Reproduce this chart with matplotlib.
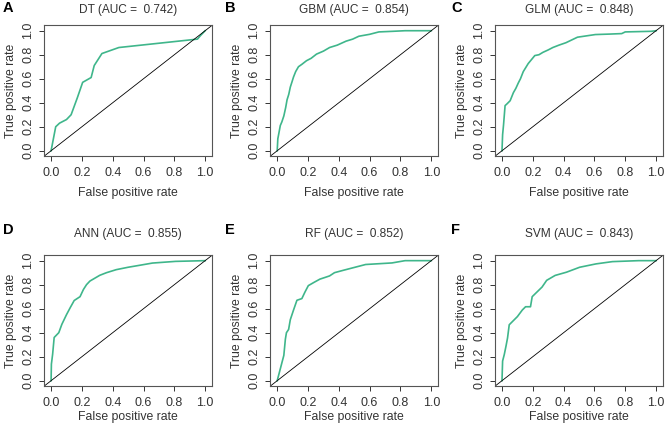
import matplotlib
matplotlib.use("Agg")
import matplotlib.pyplot as plt

plt.rcParams["font.family"] = ["Liberation Sans", "DejaVu Sans"]

# curvas ROC (fpr, tpr) por modelo
dt_fpr = [0, 0.03, 0.055, 0.10, 0.13, 0.17, 0.205, 0.26, 0.28, 0.33, 0.44, 0.95, 0.97, 1.0]
dt_tpr = [0, 0.20, 0.23, 0.26, 0.30, 0.44, 0.57, 0.61, 0.71, 0.81, 0.86, 0.93, 0.96, 1.0]

gbm_fpr = [0, 0.004, 0.01, 0.02, 0.03, 0.043, 0.055, 0.064, 0.075, 0.085, 0.095, 0.106, 0.12, 0.138,
           0.16, 0.19, 0.22, 0.255, 0.30, 0.34, 0.39, 0.447, 0.49, 0.53, 0.60, 0.66, 0.75, 0.83, 1.0]
gbm_tpr = [0, 0.10, 0.14, 0.21, 0.24, 0.29, 0.36, 0.425, 0.47, 0.53, 0.57, 0.615, 0.66, 0.70,
           0.72, 0.75, 0.77, 0.805, 0.83, 0.86, 0.88, 0.913, 0.93, 0.954, 0.97, 0.99, 0.995, 1.0, 1.0]

glm_fpr = [0, 0.004, 0.01, 0.02, 0.032, 0.053, 0.074, 0.09, 0.106, 0.12, 0.138, 0.17, 0.213, 0.24,
           0.266, 0.30, 0.33, 0.37, 0.415, 0.49, 0.606, 0.70, 0.777, 0.80, 0.968, 1.0]
glm_tpr = [0, 0.134, 0.215, 0.376, 0.39, 0.417, 0.484, 0.52, 0.565, 0.60, 0.659, 0.726, 0.793, 0.80,
           0.82, 0.84, 0.86, 0.88, 0.90, 0.946, 0.968, 0.972, 0.976, 0.99, 0.995, 1.0]

ann_fpr = [0, 0.002, 0.01, 0.02, 0.05, 0.07, 0.10, 0.124, 0.15, 0.188, 0.21, 0.23, 0.252, 0.316,
           0.36, 0.423, 0.50, 0.573, 0.658, 0.808, 1.0]
ann_tpr = [0, 0.138, 0.22, 0.36, 0.40, 0.47, 0.55, 0.608, 0.668, 0.70, 0.76, 0.80, 0.83, 0.878,
           0.90, 0.925, 0.945, 0.961, 0.98, 0.994, 1.0]

rf_fpr = [0, 0.021, 0.043, 0.053, 0.06, 0.074, 0.085, 0.106, 0.128, 0.16, 0.18, 0.202, 0.24, 0.277,
          0.31, 0.34, 0.372, 0.43, 0.49, 0.574, 0.745, 0.83, 1.0]
rf_tpr = [0, 0.103, 0.211, 0.346, 0.40, 0.427, 0.508, 0.589, 0.67, 0.684, 0.738, 0.792, 0.82, 0.846,
          0.86, 0.873, 0.90, 0.92, 0.94, 0.968, 0.981, 1.0, 1.0]

svm_fpr = [0, 0.004, 0.015, 0.026, 0.036, 0.047, 0.068, 0.10, 0.132, 0.153, 0.185, 0.196, 0.228,
           0.26, 0.29, 0.345, 0.419, 0.504, 0.61, 0.717, 0.887, 1.0]
svm_tpr = [0, 0.164, 0.219, 0.288, 0.356, 0.466, 0.493, 0.534, 0.589, 0.616, 0.616, 0.70, 0.74,
           0.78, 0.836, 0.877, 0.904, 0.945, 0.973, 0.992, 1.0, 1.0]

modelos = ["DT", "GBM", "GLM", "ANN", "RF", "SVM"]
aucs = [0.742, 0.854, 0.848, 0.855, 0.852, 0.843]
letras = ["A", "B", "C", "D", "E", "F"]
curvas = [(dt_fpr, dt_tpr), (gbm_fpr, gbm_tpr), (glm_fpr, glm_tpr),
          (ann_fpr, ann_tpr), (rf_fpr, rf_tpr), (svm_fpr, svm_tpr)]
ticks = [0.0, 0.2, 0.4, 0.6, 0.8, 1.0]

VERDE = "#3fb68b"
GRIS = "#333333"

fig = plt.figure(figsize=(6.69, 4.29), dpi=100)
lefts = [0.066, 0.404, 0.740]
bottoms = [0.636, 0.100]
w, h = 0.251, 0.305
letra_x = [0.004, 0.337, 0.674]
letra_y = [0.982, 0.463]

for i, (mod, auc, let, (fx, fy)) in enumerate(zip(modelos, aucs, letras, curvas)):
    fila, col = divmod(i, 3)
    ax = fig.add_axes([lefts[col], bottoms[fila], w, h])
    ax.plot(fx, fy, color=VERDE, lw=1.2)
    ax.axline((0, 0), (1, 1), color="black", lw=0.6)
    ax.set_xlim(-0.045, 1.045)
    ax.set_ylim(-0.045, 1.045)
    ax.set_xticks(ticks)
    ax.set_yticks(ticks)
    ax.set_xticklabels([f"{t:.1f}" for t in ticks])
    ax.set_yticklabels([f"{t:.1f}" for t in ticks], rotation=90, va="center")
    ax.tick_params(labelsize=9, length=3.5, width=0.7, colors=GRIS, pad=4)
    ax.tick_params(axis="y", pad=3.5)
    for s in ax.spines.values():
        s.set_color("#555555")
        s.set_linewidth(0.8)
    ax.set_xlabel("False positive rate", fontsize=8.8, color=GRIS,
                  labelpad=6 if fila == 0 else 2)
    ax.set_ylabel("True positive rate", fontsize=8.8, color=GRIS, labelpad=4)
    ax.set_title(f"{mod} (AUC =  {auc:.3f})", fontsize=8.6, color=GRIS,
                 pad=9 if fila == 0 else 13)
    fig.text(letra_x[col], letra_y[fila], let, fontsize=10.5, fontweight="bold",
             ha="left", va="center")

fig.savefig("out.png", dpi=100)
